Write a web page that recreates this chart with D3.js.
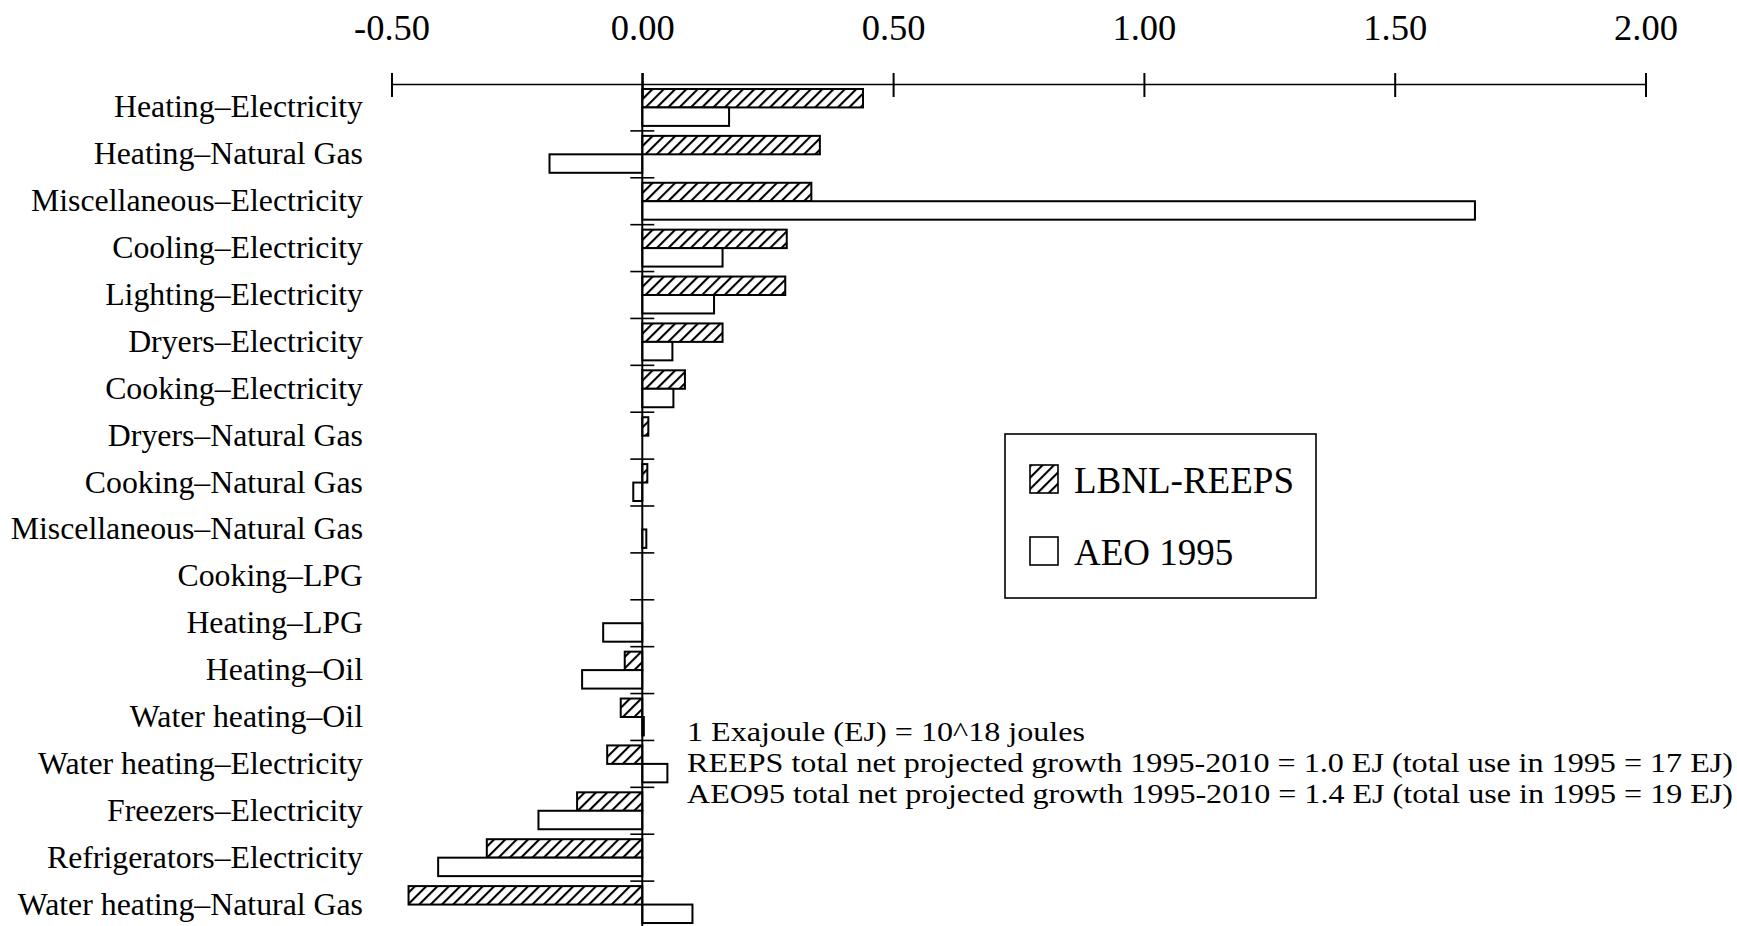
<!DOCTYPE html>
<html lang="en">
<head>
  <meta charset="utf-8">
  <title>growth by end use</title>
  <style>
    body { margin: 0; background: #fff; }
    svg { display: block; font-family: "Liberation Serif", "Times New Roman", serif; }
  </style>
</head>
<body>

  <svg class="canvas" width="1737" height="926"></svg>

  <script src="https://d3js.org/d3.v7.min.js"></script>
  <script>

// categories, top to bottom
let categories = [
  "Heating–Electricity",
  "Heating–Natural Gas",
  "Miscellaneous–Electricity",
  "Cooling–Electricity",
  "Lighting–Electricity",
  "Dryers–Electricity",
  "Cooking–Electricity",
  "Dryers–Natural Gas",
  "Cooking–Natural Gas",
  "Miscellaneous–Natural Gas",
  "Cooking–LPG",
  "Heating–LPG",
  "Heating–Oil",
  "Water heating–Oil",
  "Water heating–Electricity",
  "Freezers–Electricity",
  "Refrigerators–Electricity",
  "Water heating–Natural Gas"
]

// EJ growth 1995-2010
let reeps = [0.44, 0.354, 0.337, 0.288, 0.285, 0.16, 0.085, 0.012, 0.01, 0, 0, 0, -0.035, -0.043, -0.07, -0.13, -0.31, -0.466]
let aeo95 = [0.173, -0.185, 1.66, 0.16, 0.143, 0.06, 0.062, 0, -0.018, 0.008, 0, -0.078, -0.12, 0.003, 0.05, -0.207, -0.407, 0.1]

let series = ["LBNL-REEPS", "AEO 1995"]
let xTicks = [-0.5, 0, 0.5, 1.0, 1.5, 2.0]

let notes = [
  "1 Exajoule (EJ) = 10^18 joules",
  "REEPS total net projected growth 1995-2010 = 1.0 EJ (total use in 1995 = 17 EJ)",
  "AEO95 total net projected growth 1995-2010 = 1.4 EJ (total use in 1995 = 19 EJ)"
]


let svg = d3.select(".canvas")

// hatch for the REEPS bars
let defs = svg.append("defs")
defs.append("pattern")
    .attr("id", "hatch")
    .attr("patternUnits", "userSpaceOnUse")
    .attr("width", 8).attr("height", 8)
    .attr("patternTransform", "rotate(45)")
  .append("line")
    .attr("x1", 0).attr("y1", 0).attr("x2", 0).attr("y2", 8)
    .attr("stroke", "#000").attr("stroke-width", 4.2)

let x = d3.scaleLinear().domain([-0.5, 2.0]).range([391.5, 1645.5])
let y = d3.scaleBand().domain(categories).range([84, 928])
let ys = d3.scaleBand().domain(series).range([0, y.bandwidth()]).paddingOuter(0.27)

let rows = categories.map(function(c, i) { return {cat: c, vals: [reeps[i], aeo95[i]]} })

// top axis, plain hyphen for the minus like the original
let fmt = d3.format(".2f")
let xAxis = d3.axisTop(x).tickValues(xTicks)
    .tickFormat(function(d) { return fmt(d).replace("\u2212", "-") })
    .tickSizeOuter(0)
let ax = svg.append("g").attr("transform", "translate(0,84)").call(xAxis)
ax.select(".domain").attr("stroke-width", 1.6)
ax.selectAll(".tick line").attr("y1", -11).attr("y2", 13).attr("stroke-width", 2)
ax.selectAll(".tick text")
    .attr("y", -44).attr("dy", 0)
    .attr("font-size", 36.5).attr("font-family", "Liberation Serif")
    .attr("fill", "#000")

// bars
let g = svg.append("g")
g.selectAll("g.row").data(rows)
  .enter().append("g")
    .attr("class", "row")
    .attr("transform", function(d) { return "translate(0," + y(d.cat) + ")" })
  .selectAll("rect").data(function(d) { return d.vals.map(function(v, j) { return {s: series[j], v: v} }) })
  .enter().append("rect")
    .filter(function(d) { return d.v != 0 })
    .attr("x", function(d) { return x(Math.min(0, d.v)) })
    .attr("width", function(d) { return Math.abs(x(d.v) - x(0)) })
    .attr("y", function(d) { return ys(d.s) })
    .attr("height", ys.bandwidth())
    .attr("fill", function(d) { return d.s == series[0] ? "url(#hatch)" : "#fff" })
    .attr("stroke", "#000")
    .attr("stroke-width", 2)

// zero line with category ticks
svg.append("line")
    .attr("x1", x(0)).attr("x2", x(0))
    .attr("y1", 73).attr("y2", 926)
    .attr("stroke", "#000").attr("stroke-width", 2)

svg.append("g").selectAll("line").data(categories.slice(1))
  .enter().append("line")
    .attr("x1", x(0) - 12).attr("x2", x(0) + 12)
    .attr("y1", function(d) { return y(d) }).attr("y2", function(d) { return y(d) })
    .attr("stroke", "#000").attr("stroke-width", 1.6)

// category labels
svg.append("g").selectAll("text").data(categories)
  .enter().append("text")
    .attr("x", 363)
    .attr("y", function(d) { return y(d) + y.bandwidth() / 2 + 10 })
    .attr("text-anchor", "end")
    .attr("font-size", 31.8)
    .text(function(d) { return d })

// legend
let leg = svg.append("g").attr("transform", "translate(1005,434)")
leg.append("rect")
    .attr("width", 311).attr("height", 164)
    .attr("fill", "#fff").attr("stroke", "#000").attr("stroke-width", 1.6)
let li = leg.selectAll("g.item").data(series)
  .enter().append("g")
    .attr("class", "item")
    .attr("transform", function(d, i) { return "translate(25," + (31 + i * 72) + ")" })
li.append("rect")
    .attr("width", 28).attr("height", 28)
    .attr("fill", function(d, i) { return i == 0 ? "url(#hatch)" : "#fff" })
    .attr("stroke", "#000").attr("stroke-width", 1.6)
li.append("text")
    .attr("x", 44).attr("y", 28)
    .attr("font-size", 37)
    .text(function(d) { return d })

// notes: the original face is tall and narrow, so keep the size down and
// stretch the lines to their measured length so they do not collide
let noteWidth = 1046
svg.append("g").selectAll("text").data(notes)
  .enter().append("text")
    .attr("x", 687)
    .attr("y", function(d, i) { return 741 + i * 31 })
    .attr("font-size", 27)
    .text(function(d) { return d })
    .each(function(d, i) {
      if (i > 0) d3.select(this).attr("textLength", noteWidth).attr("lengthAdjust", "spacingAndGlyphs")
      else d3.select(this).attr("textLength", 398).attr("lengthAdjust", "spacingAndGlyphs")
    })

  </script>
</body>
</html>
